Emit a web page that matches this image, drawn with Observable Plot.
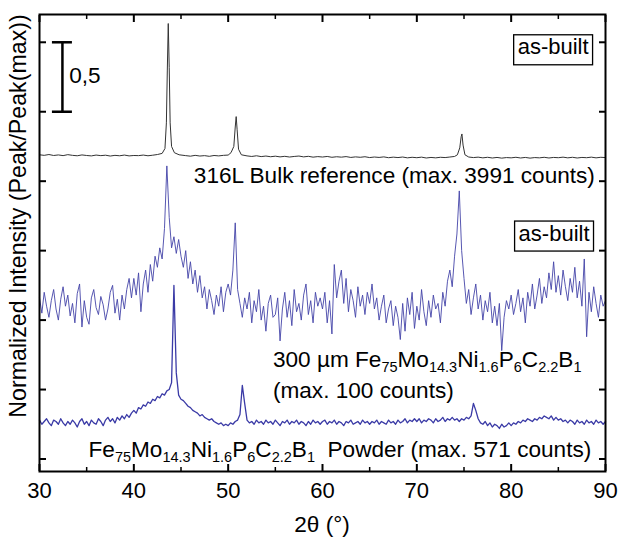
<!DOCTYPE html>
<html><head><meta charset="utf-8">
<script src="https://cdn.jsdelivr.net/npm/d3@7"></script>
<script src="https://cdn.jsdelivr.net/npm/@observablehq/plot@0.6"></script>
<style>body{margin:0;background:#fff;} svg text{white-space:pre;}</style>
</head><body><div id="chart"></div>
<script>
const FONT = "'Liberation Sans', Arial, sans-serif";

// x ticks
const xTicks = [30, 40, 50, 60, 70, 80, 90];
const xMinorTicks = [35, 45, 55, 65, 75, 85];
const yTicks = [0, 0.5, 1, 1.5, 2, 2.5, 3];

// 316L bulk reference (stacked, normalized)
const bulkTheta = [30,30.5,31,31.5,32,32.5,33,33.5,34,34.5,35,35.5,36,36.5,37,37.5,38,38.5,39,39.5,40,40.5,41,41.5,42,42.5,43,
 43.3,43.45,43.55,43.65,43.75,43.85,44,44.3,44.8,
 45.5,46,46.5,47,47.5,48,48.5,49,49.5,50,
 50.3,50.6,50.75,50.85,50.95,51.1,51.4,
 52,52.5,53,53.5,54,54.5,55,55.5,56,56.5,57,57.5,58,58.5,59,59.5,60,60.5,61,61.5,62,62.5,63,63.5,64,64.5,65,65.5,66,66.5,67,67.5,68,68.5,69,69.5,70,70.5,71,71.5,72,72.5,73,73.5,74,
 74.3,74.55,74.7,74.78,74.9,75.1,
 75.5,76,76.5,77,77.5,78,78.5,79,79.5,80,80.5,81,81.5,82,82.5,83,83.5,84,84.5,85,85.5,86,86.5,87,87.5,88,88.5,89,89.5,90];
const bulkIntensity = [2.190,2.186,2.192,2.185,2.189,2.184,2.191,2.186,2.183,2.189,2.185,2.182,2.188,2.184,2.187,2.181,2.186,2.183,2.188,2.182,2.185,2.184,2.188,2.183,2.187,2.192,2.200,
 2.235,2.42,2.80,3.135,2.82,2.42,2.25,2.205,2.19,
 2.184,2.180,2.186,2.181,2.184,2.179,2.185,2.182,2.186,2.188,
 2.205,2.25,2.39,2.465,2.37,2.23,2.19,
 2.182,2.178,2.183,2.177,2.181,2.176,2.180,2.175,2.179,2.174,2.178,2.181,2.175,2.179,2.173,2.177,2.174,2.178,2.172,2.176,2.173,2.177,2.171,2.175,2.172,2.176,2.170,2.174,2.171,2.175,2.169,2.173,2.170,2.174,2.168,2.172,2.169,2.173,2.167,2.171,2.168,2.172,2.170,2.174,2.178,
 2.19,2.24,2.32,2.34,2.26,2.19,
 2.174,2.170,2.173,2.168,2.172,2.167,2.171,2.166,2.170,2.168,2.172,2.167,2.171,2.166,2.170,2.168,2.172,2.167,2.171,2.169,2.173,2.168,2.172,2.167,2.171,2.169,2.173,2.168,2.172,2.170];

// scans on a regular 2θ grid (start 30°, step 0.25°)
const scanStart = 30, scanStep = 0.25;
const asBuilt300 = [
 1.16,1.05,1.20,1.10,1.02,1.14,1.22,1.08,1.00,1.15,
 1.24,1.10,1.18,1.03,1.12,0.98,1.19,1.26,0.95,1.14,
 1.02,0.97,1.16,1.22,1.09,1.04,1.17,1.11,1.00,1.08,
 1.20,1.25,1.05,1.15,1.00,1.18,1.08,1.22,1.30,1.16,
 1.30,1.18,1.34,1.06,1.26,1.36,1.20,1.40,1.28,1.46,
 1.38,1.52,1.44,1.66,2.11,1.74,1.52,1.60,1.48,1.58,
 1.46,1.38,1.50,1.30,1.42,1.26,1.36,1.20,1.32,1.16,
 1.24,1.08,1.22,1.14,1.04,1.18,1.10,1.24,1.06,1.20,
 1.26,1.18,1.36,1.70,1.22,1.12,1.02,1.16,1.08,1.20,
 0.98,1.14,1.06,1.22,1.00,1.10,0.92,1.12,1.18,1.02,
 1.04,1.16,0.85,1.08,1.20,1.02,1.14,0.96,1.22,1.06,
 1.12,1.00,1.18,1.26,1.04,1.14,0.98,1.20,1.10,1.16,
 1.08,1.20,0.98,1.14,0.90,1.40,1.16,1.28,1.36,1.12,
 1.30,1.06,1.22,1.14,1.02,1.24,1.10,1.18,1.04,1.20,
 1.12,1.26,1.08,1.16,1.00,1.10,1.18,0.98,1.08,1.14,
 0.96,1.10,1.02,0.86,1.12,0.92,1.16,1.04,1.20,0.94,
 1.10,1.00,1.22,1.06,0.96,1.14,1.02,1.18,1.08,1.12,
 0.98,1.20,1.10,1.28,1.36,1.24,1.46,1.62,1.93,1.50,
 1.30,1.12,1.22,1.04,1.16,1.26,1.08,1.18,1.00,1.14,
 1.06,1.20,0.98,1.10,0.96,1.12,0.78,1.02,1.14,1.08,
 1.18,1.04,1.12,1.22,1.06,1.16,0.98,1.20,1.10,1.26,
 1.08,1.18,1.30,1.12,1.24,1.16,1.34,1.22,1.42,1.20,
 1.32,1.18,1.36,1.24,1.14,1.30,1.20,1.38,1.16,1.28,
 1.10,1.44,0.88,1.20,1.06,1.24,1.12,1.02,1.18,1.10,
 1.14];
const powder = [
 0.28,0.25,0.27,0.29,0.26,0.24,0.28,0.27,0.25,0.29,
 0.26,0.24,0.27,0.25,0.28,0.26,0.23,0.27,0.29,0.25,
 0.27,0.24,0.28,0.26,0.25,0.29,0.27,0.24,0.28,0.30,
 0.27,0.29,0.26,0.30,0.28,0.31,0.29,0.32,0.30,0.33,
 0.35,0.33,0.37,0.36,0.39,0.38,0.41,0.40,0.43,0.42,
 0.45,0.44,0.47,0.46,0.49,0.50,0.55,1.25,0.62,0.46,
 0.43,0.42,0.40,0.38,0.37,0.35,0.34,0.33,0.31,0.32,
 0.30,0.29,0.28,0.29,0.27,0.26,0.25,0.26,0.24,0.25,
 0.24,0.26,0.25,0.27,0.28,0.32,0.53,0.40,0.28,0.26,
 0.27,0.25,0.28,0.26,0.27,0.25,0.28,0.26,0.27,0.25,
 0.28,0.26,0.24,0.27,0.26,0.28,0.25,0.27,0.26,0.28,
 0.25,0.27,0.26,0.24,0.27,0.25,0.28,0.26,0.27,0.25,
 0.27,0.28,0.25,0.27,0.26,0.28,0.25,0.27,0.26,0.24,
 0.27,0.26,0.28,0.25,0.26,0.27,0.25,0.28,0.26,0.27,
 0.25,0.27,0.26,0.28,0.25,0.27,0.26,0.25,0.28,0.26,
 0.27,0.25,0.28,0.26,0.27,0.29,0.26,0.28,0.27,0.29,
 0.27,0.29,0.26,0.28,0.27,0.29,0.28,0.26,0.29,0.27,
 0.28,0.30,0.27,0.29,0.28,0.30,0.28,0.29,0.27,0.29,
 0.28,0.30,0.29,0.31,0.40,0.35,0.29,0.26,0.25,0.27,
 0.24,0.26,0.23,0.25,0.24,0.22,0.25,0.23,0.24,0.26,
 0.24,0.26,0.25,0.27,0.26,0.28,0.27,0.29,0.28,0.27,
 0.29,0.28,0.30,0.29,0.31,0.30,0.29,0.31,0.28,0.30,
 0.28,0.29,0.27,0.28,0.26,0.28,0.27,0.25,0.28,0.26,
 0.27,0.25,0.28,0.26,0.27,0.25,0.28,0.26,0.27,0.25,
 0.27];

// text
const bulkLabel = "316L Bulk reference (max. 3991 counts)";
const asBuiltLabel = "as-built";
const sampleLabel = "300 µm Fe_{75}Mo_{14.3}Ni_{1.6}P_{6}C_{2.2}B_{1}";
const sampleCounts = "(max. 100 counts)";
const powderLabel = "Fe_{75}Mo_{14.3}Ni_{1.6}P_{6}C_{2.2}B_{1}  Powder (max. 571 counts)";
const scaleLabel = "0,5";
const xLabel = "2θ (°)";
const yLabel = "Normalized Intensity (Peak/Peak(max))";

const bulkRows = bulkTheta.map((t, i) => ({t, v: bulkIntensity[i]}));
const midRows = asBuilt300.map((v, i) => ({t: scanStart + i * scanStep, v}));
const powRows = powder.map((v, i) => ({t: scanStart + i * scanStep, v}));

const noText = () => "";
const svg = Plot.plot({
  width: 619, height: 537,
  marginLeft: 39, marginRight: 14, marginTop: 14, marginBottom: 66,
  style: {fontFamily: FONT, fontSize: "22px", background: "white", color: "black"},
  x: {domain: [30, 90], label: null},
  y: {domain: [-0.09, 3.2], label: null},
  marks: [
    Plot.line(bulkRows, {x: "t", y: "v", stroke: "#333", strokeWidth: 1}),
    Plot.line(midRows, {x: "t", y: "v", stroke: "#4444a8", strokeWidth: 0.9}),
    Plot.line(powRows, {x: "t", y: "v", stroke: "#3a3aa6", strokeWidth: 1.3}),
    // scale bar
    Plot.ruleX([32.43], {x: d => d, y1: 2.5, y2: 3.0, stroke: "black", strokeWidth: 2.5}),
    Plot.ruleY([2.5, 3.0], {y: d => d, x1: 31.37, x2: 33.49, stroke: "black", strokeWidth: 2.5}),
    Plot.frame({stroke: "black", strokeWidth: 2}),
    Plot.axisX(xTicks, {anchor: "bottom", tickSize: -7, strokeWidth: 2, tickFormat: noText, label: null}),
    Plot.axisX(xMinorTicks, {anchor: "bottom", tickSize: -4, strokeWidth: 1.5, tickFormat: noText, label: null}),
    Plot.axisX(xTicks, {anchor: "top", tickSize: -7, strokeWidth: 2, tickFormat: noText, label: null}),
    Plot.axisX(xMinorTicks, {anchor: "top", tickSize: -4, strokeWidth: 1.5, tickFormat: noText, label: null}),
    Plot.axisY(yTicks, {anchor: "left", tickSize: -7, strokeWidth: 2, tickFormat: noText, label: null}),
    Plot.axisY(yTicks, {anchor: "right", tickSize: -7, strokeWidth: 2, tickFormat: noText, label: null}),
    Plot.axisX(xTicks, {anchor: "bottom", tickSize: 0, tickPadding: 11, label: null})
  ]
});
document.getElementById("chart").append(svg);

const xs = svg.scale("x"), ys = svg.scale("y");
const g = d3.select(svg).append("g").attr("font-family", FONT).attr("font-size", 22.6).attr("fill", "black");
const SUB_SIZE = 14.5, SUB_SHIFT = 5;
function richText(str, x, y, anchor) {
  const t = g.append("text").attr("x", xs.apply(x)).attr("y", ys.apply(y)).attr("text-anchor", anchor);
  const tokens = [];
  const re = /_\{([^}]*)\}/g; let last = 0, m;
  while ((m = re.exec(str))) {
    if (m.index > last) tokens.push({s: str.slice(last, m.index), sub: false});
    tokens.push({s: m[1], sub: true});
    last = re.lastIndex;
  }
  if (last < str.length) tokens.push({s: str.slice(last), sub: false});
  let prevSub = false;
  for (const tk of tokens) {
    const dy = (tk.sub ? SUB_SHIFT : 0) - (prevSub ? SUB_SHIFT : 0);
    const sp = t.append("tspan").attr("dy", dy).text(tk.s);
    if (tk.sub) sp.attr("font-size", SUB_SIZE);
    prevSub = tk.sub;
  }
  return t;
}
function boxedText(str, x, y) {
  const t = richText(str, x, y, "middle");
  t.attr("font-size", 22);
  const b = t.node().getBBox();
  g.insert("rect", "text").attr("x", b.x - 4).attr("y", b.y + 0.5).attr("width", b.width + 8).attr("height", b.height + 5)
    .attr("fill", "white").attr("stroke", "black").attr("stroke-width", 1.3);
}
richText(bulkLabel, 88.93, 1.98, "end");
boxedText(asBuiltLabel, 84.5, 2.91);
boxedText(asBuiltLabel, 84.6, 1.569);
richText(sampleLabel, 54.8, 0.659, "start");
richText(sampleCounts, 54.8, 0.432, "start");
richText(powderLabel, 35.25, 0.0115, "start");
richText(scaleLabel, 33.2, 2.70, "start");
g.append("text").attr("x", xs.apply(60)).attr("y", 532).attr("text-anchor", "middle").text(xLabel);
g.append("text").attr("transform", "translate(26,216) rotate(-90)").attr("text-anchor", "middle").attr("font-size", 23.2).text(yLabel);
</script></body></html>
